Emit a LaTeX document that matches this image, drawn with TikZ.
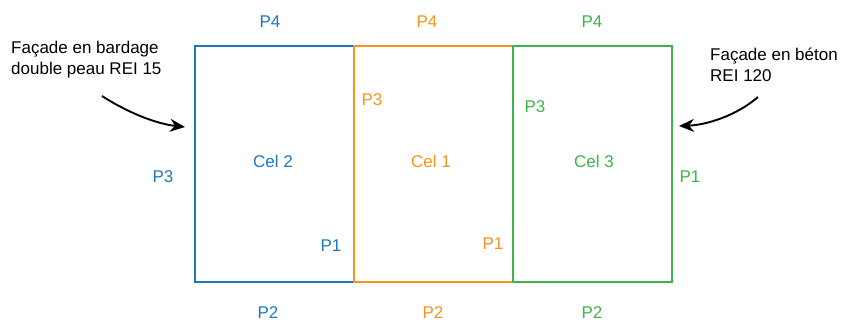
\documentclass[tikz,border=0pt]{standalone}
\usepackage{fontspec}
\setmainfont{Liberation Sans}
\usetikzlibrary{arrows.meta}
\definecolor{cblue}{RGB}{30,120,190}
\definecolor{corange}{RGB}{247,148,30}
\definecolor{cgreen}{RGB}{60,181,74}
\begin{document}
\begin{tikzpicture}[x=1pt,y=-1pt,
  every node/.style={font=\fontsize{17}{21}\selectfont, inner sep=0pt},
  cell/.style={draw, line width=2pt, minimum width=159pt, minimum height=236pt, inner sep=0pt},
  note/.style={align=left},
  pointer/.style={line width=1.9pt, -{Stealth[length=15pt,width=13pt]}}]
\useasboundingbox (0,0) rectangle (846,321);
% cells
\node[cell, draw=cblue] (c2) at (274.5,164) {};
\node[cell, draw=corange] (c1) at (433.5,164) {};
\node[cell, draw=cgreen] (c3) at (592.5,164) {};
% cell names
\node[text=cblue] (n2) at (273,161) {Cel 2};
\node[text=corange] (n1) at (431,161) {Cel 1};
\node[text=cgreen] (n3) at (594,161) {Cel 3};
% blue labels
\node[text=cblue] (b4) at (270,22) {P4};
\node[text=cblue] (b2) at (268,313) {P2};
\node[text=cblue] (b3) at (163,177) {P3};
\node[text=cblue] (b1) at (331,246) {P1};
% orange labels
\node[text=corange] (o4) at (427,22) {P4};
\node[text=corange] (o2) at (433,313) {P2};
\node[text=corange] (o3) at (372,100) {P3};
\node[text=corange] (o1) at (493,244) {P1};
% green labels
\node[text=cgreen] (g4) at (592,22) {P4};
\node[text=cgreen] (g2) at (592,313) {P2};
\node[text=cgreen] (g3) at (535,107) {P3};
\node[text=cgreen] (g1) at (690,177) {P1};
% notes
\node[note, anchor=north west] (lt) at (11,41) {Façade en bardage\\double peau REI 15};
\node[note, anchor=north west] (rt) at (710,48) {Façade en béton\\REI 120};
% arrows
\coordinate (la) at (102,96);
\coordinate (lb) at (185,127);
\coordinate (ra) at (758,97);
\coordinate (rb) at (679,126);
\draw[pointer] (la) .. controls (130,114) and (158,124) .. (lb);
\draw[pointer] (ra) .. controls (736,116) and (706,125) .. (rb);
\end{tikzpicture}
\end{document}
